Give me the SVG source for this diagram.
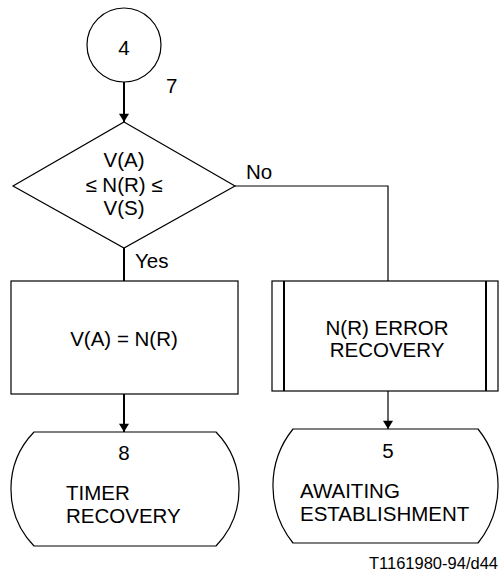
<svg xmlns="http://www.w3.org/2000/svg" width="500" height="575" viewBox="0 0 500 575">
<style>
text{font-family:"Liberation Sans",Arial,sans-serif;font-size:20.5px;fill:#000}
.c{text-anchor:middle}
.s{fill:#fff;stroke:#000;stroke-width:1.2}
.thick{stroke:#000;stroke-width:2;fill:none}
.thin{stroke:#000;stroke-width:1.2;fill:none}
</style>
<defs>
<marker id="ah" viewBox="0 0 10 12" refX="10" refY="6" markerWidth="12" markerHeight="10" markerUnits="userSpaceOnUse" orient="auto">
<path d="M0,0 L10,6 L0,12 Z" fill="#000"/>
</marker>
</defs>
<rect width="500" height="575" fill="#fff"/>
<g id="connectors">
<line class="thick" x1="124" y1="82" x2="124" y2="122" marker-end="url(#ah)"/>
<line class="thick" x1="124" y1="248" x2="124" y2="281"/>
<polyline class="thin" points="235,186 388,186 388,281"/>
<line class="thick" x1="124" y1="394" x2="124" y2="432" marker-end="url(#ah)"/>
<line class="thin" x1="388" y1="391" x2="388" y2="429" marker-end="url(#ah)"/>
<text x="135" y="268">Yes</text>
<text x="246" y="179">No</text>
</g>
<g id="start4">
<circle class="s" cx="124" cy="45" r="37"/>
<text class="c" x="124" y="55">4</text>
<text x="166" y="93">7</text>
</g>
<g id="decision">
<polygon class="s" points="124,122 235,186 124,248 13,186"/>
<text class="c" x="124" y="167">V(A)</text>
<text class="c" x="124" y="192">≤ N(R) ≤</text>
<text class="c" x="124" y="215">V(S)</text>
</g>
<g id="task">
<rect class="s" x="11" y="281" width="227" height="113"/>
<text class="c" x="124" y="346">V(A) = N(R)</text>
</g>
<g id="procedure">
<rect class="s" x="272" y="281" width="226" height="110"/>
<line stroke="#000" stroke-width="2" x1="284" y1="281" x2="284" y2="391"/>
<line stroke="#000" stroke-width="2" x1="486" y1="281" x2="486" y2="391"/>
<text class="c" x="387" y="335">N(R) ERROR</text>
<text class="c" x="387" y="357">RECOVERY</text>
</g>
<g id="state8">
<path class="s" d="M34,432 H216 A82,82 0 0 1 216,546 H34 A82,82 0 0 1 34,432 Z"/>
<text class="c" x="124" y="460">8</text>
<text x="66" y="500">TIMER</text>
<text x="66" y="523">RECOVERY</text>
</g>
<g id="state5">
<path class="s" d="M293,429 H478 A91,91 0 0 1 478,543 H293 A91,91 0 0 1 293,429 Z"/>
<text class="c" x="388" y="458">5</text>
<text x="300" y="498">AWAITING</text>
<text x="300" y="521">ESTABLISHMENT</text>
</g>
<text x="498" y="569" text-anchor="end" style="font-size:16.5px">T1161980-94/d44</text>
</svg>
